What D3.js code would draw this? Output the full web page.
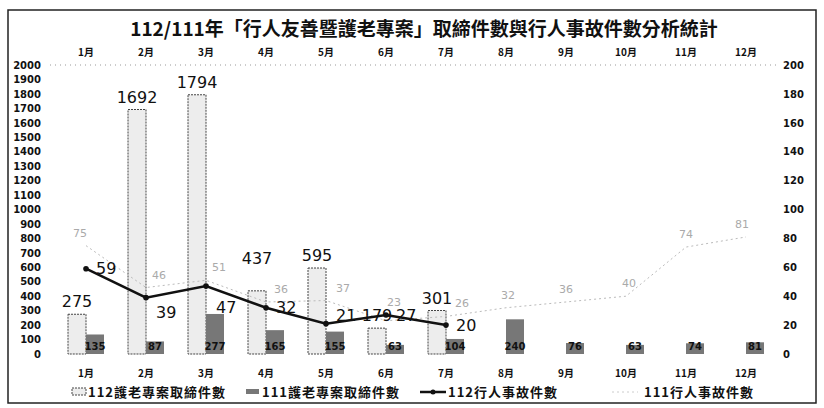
<!DOCTYPE html>
<html>
<head>
<meta charset="utf-8">
<script src="https://cdn.jsdelivr.net/npm/d3@7"></script>
<style>
  body { margin: 0; background: #fff; }
  svg { display: block; }
</style>
</head>
<body>
<svg id="chart"></svg>
<script>
const months = ["1月", "2月", "3月", "4月", "5月", "6月", "7月", "8月", "9月", "10月", "11月", "12月"];
const guard112 = [275, 1692, 1794, 437, 595, 179, 301, null, null, null, null, null];
const guard111 = [135, 87, 277, 165, 155, 63, 104, 240, 76, 63, 74, 81];
const acc112 = [59, 39, 47, 32, 21, 27, 20, null, null, null, null, null];
const acc111 = [75, 46, 51, 36, 37, 23, 26, 32, 36, 40, 74, 81];
const leftTicks = [0, 100, 200, 300, 400, 500, 600, 700, 800, 900, 1000, 1100, 1200, 1300, 1400, 1500, 1600, 1700, 1800, 1900, 2000];
const rightTicks = [0, 20, 40, 60, 80, 100, 120, 140, 160, 180, 200];
const seriesNames = ["112護老專案取締件數", "111護老專案取締件數", "112行人事故件數", "111行人事故件數"];

// label nudges (px)
const accLabelShift = [0, 15, 21, 0, -8, 0, 0];
const guardLabelLift = [0, 0, 0, 20, 0, 0, 0];
const acc111LabelDx = [-6, 13, 13, 15, 17, 8, 16, 2, 0, 3, 0, -4];
const acc111LabelLift = [0, 0, 0, 0, 0, 6, 0, 0, 0, 0, 0, 0];

const W = 824, H = 408;
const cjk = "'Noto Sans CJK TC', 'Noto Sans CJK SC', sans-serif";
const num = "'DejaVu Sans', Verdana, sans-serif";

const svg = d3.select("#chart").attr("width", W).attr("height", H);

// border
svg.append("rect")
   .attr("x", 8).attr("y", 10)
   .attr("width", 808).attr("height", 393)
   .attr("fill", "none")
   .attr("stroke", "#222")
   .attr("stroke-width", 1.5);

svg.append("text")
   .attr("x", 424).attr("y", 36)
   .attr("text-anchor", "middle")
   .style("font-family", cjk)
   .style("font-size", "19px")
   .style("font-weight", "bold")
   .attr("fill", "#111")
   .text("112/111年「行人友善暨護老專案」取締件數與行人事故件數分析統計");

const x = d3.scaleBand().domain(months).range([56, 776]).paddingInner(0.4).paddingOuter(0.2);
const x1 = d3.scaleBand().domain(["112", "111"]).range([0, x.bandwidth()]);
const yL = d3.scaleLinear().domain([0, 2000]).range([354, 65]);
const yR = d3.scaleLinear().domain([0, 200]).range([354, 65]);
const cx = m => x(m) + x.bandwidth() / 2;

// top dotted gridline
svg.append("line")
   .attr("x1", 50).attr("x2", 776)
   .attr("y1", yL(2000)).attr("y2", yL(2000))
   .attr("stroke", "#999")
   .attr("stroke-dasharray", "1,4");

// axes
const axL = svg.append("g").attr("transform", "translate(43,0)")
   .call(d3.axisLeft(yL).tickValues(leftTicks).tickFormat(d3.format("d")).tickSize(0).tickPadding(2));
const axR = svg.append("g").attr("transform", "translate(780,0)")
   .call(d3.axisRight(yR).tickValues(rightTicks).tickFormat(d3.format("d")).tickSize(0).tickPadding(3));
const axT = svg.append("g").attr("transform", "translate(0,59)")
   .call(d3.axisTop(x).tickSize(0).tickPadding(3));
const axB = svg.append("g").attr("transform", "translate(0,367)")
   .call(d3.axisBottom(x).tickSize(0).tickPadding(3));

[axL, axR].forEach(a => {
  a.select(".domain").remove();
  a.selectAll("text").style("font-family", num).style("font-size", "10px")
   .style("font-weight", "bold").attr("fill", "#111");
});
[axT, axB].forEach(a => {
  a.select(".domain").remove();
  a.selectAll("text").style("font-family", cjk).style("font-size", "10px")
   .style("font-weight", "bold").attr("fill", "#111");
});

// 112 bars
const b112 = months.map((m, i) => ({ m, v: guard112[i], i })).filter(d => d.v != null);
svg.append("g").selectAll("rect")
   .data(b112)
   .enter()
   .append("rect")
   .attr("x", d => x(d.m) + x1("112"))
   .attr("y", d => yL(d.v))
   .attr("width", x1.bandwidth())
   .attr("height", d => yL(0) - yL(d.v))
   .attr("fill", "#ededed")
   .attr("stroke", "#444")
   .attr("stroke-width", 1)
   .attr("stroke-dasharray", "2,1");

// 111 bars
const b111 = months.map((m, i) => ({ m, v: guard111[i] }));
svg.append("g").selectAll("rect")
   .data(b111)
   .enter()
   .append("rect")
   .attr("x", d => x(d.m) + x1("111"))
   .attr("y", d => yL(d.v))
   .attr("width", x1.bandwidth())
   .attr("height", d => yL(0) - yL(d.v))
   .attr("fill", "#777");

// 111 accident line (faint dashed)
const line = d3.line().defined(d => d.v != null).x(d => cx(d.m)).y(d => yR(d.v));
const l111 = months.map((m, i) => ({ m, v: acc111[i], i }));
svg.append("path")
   .datum(l111)
   .attr("d", line)
   .attr("fill", "none")
   .attr("stroke", "#bbb")
   .attr("stroke-width", 1)
   .attr("stroke-dasharray", "2,3");

svg.append("g").selectAll("text")
   .data(l111)
   .enter()
   .append("text")
   .attr("x", d => cx(d.m) + acc111LabelDx[d.i])
   .attr("y", d => yR(d.v) - 9 - acc111LabelLift[d.i])
   .attr("text-anchor", "middle")
   .style("font-family", num)
   .style("font-size", "11px")
   .attr("fill", "#aaa")
   .text(d => d.v);

// 112 accident line
const l112 = months.map((m, i) => ({ m, v: acc112[i], i })).filter(d => d.v != null);
svg.append("path")
   .datum(l112)
   .attr("d", line)
   .attr("fill", "none")
   .attr("stroke", "#111")
   .attr("stroke-width", 2.5);

svg.append("g").selectAll("circle")
   .data(l112)
   .enter()
   .append("circle")
   .attr("cx", d => cx(d.m))
   .attr("cy", d => yR(d.v))
   .attr("r", 2.8)
   .attr("fill", "#111");

// 112 bar labels
svg.append("g").selectAll("text")
   .data(b112)
   .enter()
   .append("text")
   .attr("x", d => x(d.m) + x1("112") + x1.bandwidth() / 2)
   .attr("y", d => yL(d.v) - 7 - guardLabelLift[d.i])
   .attr("text-anchor", "middle")
   .style("font-family", num)
   .style("font-size", "16px")
   .attr("fill", "#111")
   .text(d => d.v);

// 111 bar labels, inside base
svg.append("g").selectAll("text")
   .data(b111)
   .enter()
   .append("text")
   .attr("x", d => x(d.m) + x1("111") + x1.bandwidth() / 2)
   .attr("y", yL(0) - 4)
   .attr("text-anchor", "middle")
   .style("font-family", num)
   .style("font-size", "10px")
   .style("font-weight", "bold")
   .attr("fill", "#111")
   .text(d => d.v);

// 112 accident labels
svg.append("g").selectAll("text")
   .data(l112)
   .enter()
   .append("text")
   .attr("x", d => cx(d.m) + 10)
   .attr("y", d => yR(d.v) + accLabelShift[d.i])
   .attr("dy", "0.35em")
   .style("font-family", num)
   .style("font-size", "16px")
   .attr("fill", "#111")
   .text(d => d.v);

// legend
const lg = svg.append("g").attr("transform", "translate(0,392)");
lg.append("rect").attr("x", 72).attr("y", -4).attr("width", 14).attr("height", 7)
  .attr("fill", "#ededed").attr("stroke", "#444").attr("stroke-dasharray", "2,1");
lg.append("rect").attr("x", 246).attr("y", -3).attr("width", 13).attr("height", 5)
  .attr("fill", "#777");
lg.append("line").attr("x1", 420).attr("x2", 446).attr("y1", 0).attr("y2", 0)
  .attr("stroke", "#111").attr("stroke-width", 2.5);
lg.append("circle").attr("cx", 433).attr("cy", 0).attr("r", 2.5).attr("fill", "#111");
lg.append("line").attr("x1", 612).attr("x2", 638).attr("y1", 0).attr("y2", 0)
  .attr("stroke", "#ccc").attr("stroke-dasharray", "2,3");

const legendX = [88, 262, 448, 644];
lg.selectAll("text.lab")
  .data(seriesNames)
  .enter()
  .append("text")
  .attr("class", "lab")
  .attr("x", (d, i) => legendX[i])
  .attr("y", 0)
  .attr("dy", "0.35em")
  .style("font-family", cjk)
  .style("font-size", "13px")
  .style("font-weight", "bold")
  .style("letter-spacing", "1px")
  .attr("fill", "#111")
  .text(d => d);
</script>
</body>
</html>
